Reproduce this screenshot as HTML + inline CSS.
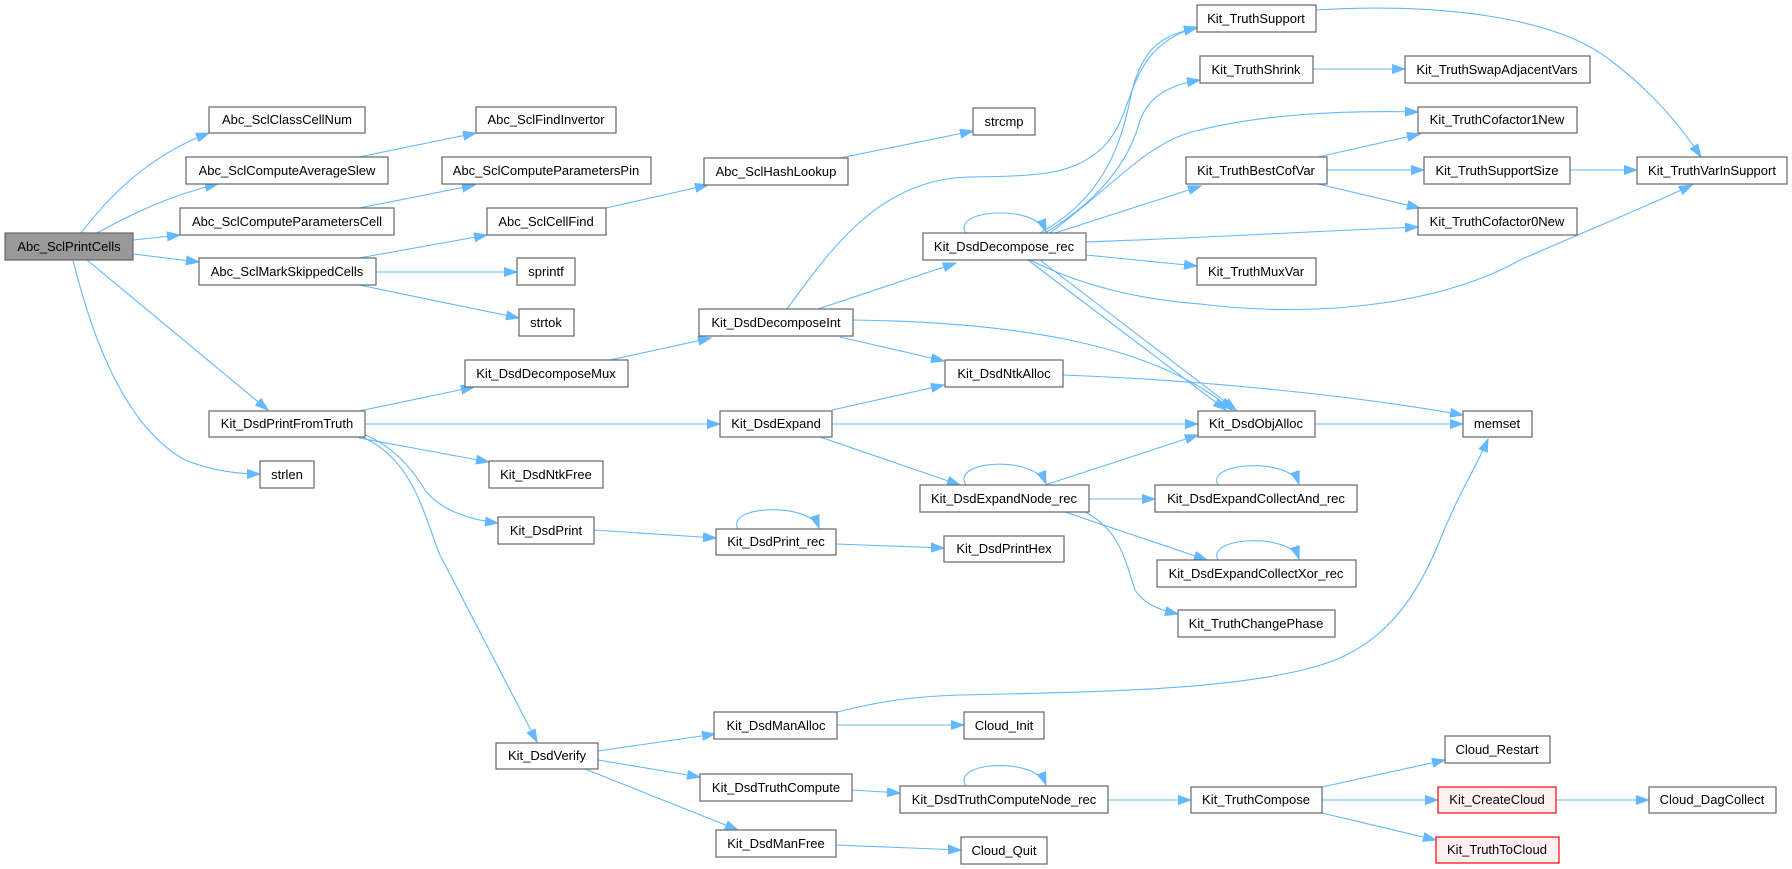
<!DOCTYPE html>
<html><head><meta charset="utf-8"><style>
html,body{margin:0;padding:0;background:#fff;}
svg{display:block;}
text{font-family:"Liberation Sans",Arial,sans-serif;font-size:13px;fill:#000;}
.e{fill:none;stroke:#63b8ff;stroke-width:1.1;marker-end:url(#a);}
.n{fill:#fff;stroke:#666;stroke-width:1.2;}
.r{fill:#fff0f0;stroke:#ff0000;stroke-width:1.2;}
.g{fill:#999;stroke:#666;stroke-width:1.2;}
</style></head><body>
<svg width="1792" height="869" viewBox="0 0 1792 869" xmlns="http://www.w3.org/2000/svg">
<defs><marker id="a" markerUnits="userSpaceOnUse" markerWidth="14" markerHeight="10" refX="13" refY="5" orient="auto"><path d="M0,0.5 L13,5 L0,9.5 z" fill="#63b8ff" stroke="#63b8ff"/></marker></defs>
<g>
<path class="e" d="M81,233 C110,195 150,155 209,133"/>
<path class="e" d="M97,233 C130,215 170,195 218,184"/>
<path class="e" d="M133,240 L180,235"/>
<path class="e" d="M133,254 L199,262"/>
<path class="e" d="M87,260 L268,410"/>
<path class="e" d="M73,260 C95,350 130,430 185,460 C210,470 235,474 260,474"/>
<path class="e" d="M359,258 L487,235"/>
<path class="e" d="M376,272 L517,272"/>
<path class="e" d="M359,285 L519,318"/>
<path class="e" d="M359,157 L476,133"/>
<path class="e" d="M359,208 L475,185"/>
<path class="e" d="M606,208 L708,185"/>
<path class="e" d="M840,158 L973,131"/>
<path class="e" d="M359,411 L474,387"/>
<path class="e" d="M365,424 L720,424"/>
<path class="e" d="M359,438 L489,462"/>
<path class="e" d="M365,435 C390,445 410,465 425,490 C440,510 470,520 498,523"/>
<path class="e" d="M362,437 C415,460 425,520 440,555 L537,742"/>
<path class="e" d="M610,360 L711,338"/>
<path class="e" d="M787,309 C830,250 880,178 970,177 C1040,176 1070,175 1100,150 C1140,115 1120,50 1197,27"/>
<path class="e" d="M818,309 L956,263"/>
<path class="e" d="M840,337 L944,361"/>
<path class="e" d="M853,320 C1000,322 1150,340 1232,410"/>
<path class="e" d="M966,233 C950,210 1035,203 1046,232"/>
<path class="e" d="M1040,233 C1100,200 1120,150 1130,100 C1140,50 1160,35 1197,28"/>
<path class="e" d="M1045,233 C1100,200 1130,160 1140,120 C1150,95 1170,85 1200,80"/>
<path class="e" d="M1050,233 C1120,180 1150,140 1200,130 C1260,115 1340,110 1418,112"/>
<path class="e" d="M1055,233 L1201,186"/>
<path class="e" d="M1086,242 C1200,238 1300,232 1418,227"/>
<path class="e" d="M1086,255 L1197,266"/>
<path class="e" d="M1030,260 C1090,290 1150,300 1200,304 C1330,320 1450,300 1520,260 C1600,225 1650,205 1692,185"/>
<path class="e" d="M1028,260 L1226,410"/>
<path class="e" d="M1040,260 L1236,410"/>
<path class="e" d="M1318,157 L1420,134"/>
<path class="e" d="M1327,170 L1424,170"/>
<path class="e" d="M1318,184 L1420,208"/>
<path class="e" d="M1313,69 L1405,69"/>
<path class="e" d="M1316,10 C1450,2 1560,20 1610,60 C1650,90 1680,125 1701,157"/>
<path class="e" d="M1570,170 L1637,170"/>
<path class="e" d="M1063,375 C1200,380 1350,395 1463,415"/>
<path class="e" d="M832,410 L944,385"/>
<path class="e" d="M832,424 L1198,424"/>
<path class="e" d="M820,437 L960,485"/>
<path class="e" d="M966,485 C950,460 1035,455 1046,484"/>
<path class="e" d="M1045,485 L1198,435"/>
<path class="e" d="M1089,499 L1155,499"/>
<path class="e" d="M1065,512 L1207,560"/>
<path class="e" d="M1085,512 C1120,530 1125,560 1135,590 C1145,605 1160,610 1178,614"/>
<path class="e" d="M1218,485 C1205,462 1290,457 1299,484"/>
<path class="e" d="M1218,560 C1205,537 1290,532 1299,559"/>
<path class="e" d="M594,530 L716,538"/>
<path class="e" d="M738,529 C725,505 810,502 819,528"/>
<path class="e" d="M836,544 L944,548"/>
<path class="e" d="M598,751 L715,734"/>
<path class="e" d="M598,760 L700,777"/>
<path class="e" d="M585,769 L738,830"/>
<path class="e" d="M837,712 C870,704 900,697 960,695 C1100,692 1250,690 1330,662 C1390,640 1420,590 1440,540 C1460,490 1475,470 1488,439"/>
<path class="e" d="M837,725 L964,725"/>
<path class="e" d="M852,790 L900,793"/>
<path class="e" d="M966,786 C950,762 1035,756 1046,785"/>
<path class="e" d="M1108,800 L1191,800"/>
<path class="e" d="M836,845 L961,850"/>
<path class="e" d="M1322,787 L1445,760"/>
<path class="e" d="M1322,800 L1438,800"/>
<path class="e" d="M1322,813 L1436,840"/>
<path class="e" d="M1556,800 L1649,800"/>
<path class="e" d="M1315,424 L1463,424"/>
</g>
<g>
<rect class="g" x="5" y="233" width="128" height="27"/><text x="69" y="251" text-anchor="middle">Abc_SclPrintCells</text>
<rect class="n" x="209" y="107" width="156" height="26"/><text x="287" y="124" text-anchor="middle">Abc_SclClassCellNum</text>
<rect class="n" x="186" y="157" width="202" height="27"/><text x="287" y="175" text-anchor="middle">Abc_SclComputeAverageSlew</text>
<rect class="n" x="180" y="208" width="214" height="27"/><text x="287" y="226" text-anchor="middle">Abc_SclComputeParametersCell</text>
<rect class="n" x="199" y="258" width="177" height="27"/><text x="287" y="276" text-anchor="middle">Abc_SclMarkSkippedCells</text>
<rect class="n" x="476" y="107" width="140" height="26"/><text x="546" y="124" text-anchor="middle">Abc_SclFindInvertor</text>
<rect class="n" x="442" y="157" width="209" height="27"/><text x="546" y="175" text-anchor="middle">Abc_SclComputeParametersPin</text>
<rect class="n" x="487" y="208" width="119" height="27"/><text x="546" y="226" text-anchor="middle">Abc_SclCellFind</text>
<rect class="n" x="517" y="258" width="58" height="27"/><text x="546" y="276" text-anchor="middle">sprintf</text>
<rect class="n" x="519" y="309" width="55" height="27"/><text x="546" y="327" text-anchor="middle">strtok</text>
<rect class="n" x="704" y="158" width="144" height="27"/><text x="776" y="176" text-anchor="middle">Abc_SclHashLookup</text>
<rect class="n" x="973" y="108" width="62" height="27"/><text x="1004" y="126" text-anchor="middle">strcmp</text>
<rect class="n" x="923" y="233" width="163" height="27"/><text x="1004" y="251" text-anchor="middle">Kit_DsdDecompose_rec</text>
<rect class="n" x="1197" y="5" width="119" height="27"/><text x="1256" y="23" text-anchor="middle">Kit_TruthSupport</text>
<rect class="n" x="1200" y="56" width="113" height="27"/><text x="1256" y="74" text-anchor="middle">Kit_TruthShrink</text>
<rect class="n" x="1405" y="56" width="185" height="27"/><text x="1497" y="74" text-anchor="middle">Kit_TruthSwapAdjacentVars</text>
<rect class="n" x="1418" y="107" width="159" height="26"/><text x="1497" y="124" text-anchor="middle">Kit_TruthCofactor1New</text>
<rect class="n" x="1186" y="157" width="141" height="27"/><text x="1256" y="175" text-anchor="middle">Kit_TruthBestCofVar</text>
<rect class="n" x="1424" y="157" width="146" height="27"/><text x="1497" y="175" text-anchor="middle">Kit_TruthSupportSize</text>
<rect class="n" x="1637" y="157" width="150" height="27"/><text x="1712" y="175" text-anchor="middle">Kit_TruthVarInSupport</text>
<rect class="n" x="1418" y="208" width="159" height="27"/><text x="1497" y="226" text-anchor="middle">Kit_TruthCofactor0New</text>
<rect class="n" x="1197" y="258" width="119" height="27"/><text x="1256" y="276" text-anchor="middle">Kit_TruthMuxVar</text>
<rect class="n" x="465" y="360" width="163" height="27"/><text x="546" y="378" text-anchor="middle">Kit_DsdDecomposeMux</text>
<rect class="n" x="209" y="411" width="156" height="26"/><text x="287" y="428" text-anchor="middle">Kit_DsdPrintFromTruth</text>
<rect class="n" x="260" y="461" width="54" height="27"/><text x="287" y="479" text-anchor="middle">strlen</text>
<rect class="n" x="489" y="461" width="114" height="27"/><text x="546" y="479" text-anchor="middle">Kit_DsdNtkFree</text>
<rect class="n" x="498" y="517" width="96" height="27"/><text x="546" y="535" text-anchor="middle">Kit_DsdPrint</text>
<rect class="n" x="699" y="309" width="154" height="27"/><text x="776" y="327" text-anchor="middle">Kit_DsdDecomposeInt</text>
<rect class="n" x="945" y="360" width="118" height="27"/><text x="1004" y="378" text-anchor="middle">Kit_DsdNtkAlloc</text>
<rect class="n" x="720" y="411" width="112" height="26"/><text x="776" y="428" text-anchor="middle">Kit_DsdExpand</text>
<rect class="n" x="920" y="485" width="169" height="27"/><text x="1004" y="503" text-anchor="middle">Kit_DsdExpandNode_rec</text>
<rect class="n" x="716" y="529" width="120" height="26"/><text x="776" y="546" text-anchor="middle">Kit_DsdPrint_rec</text>
<rect class="n" x="944" y="536" width="120" height="26"/><text x="1004" y="553" text-anchor="middle">Kit_DsdPrintHex</text>
<rect class="n" x="1198" y="411" width="117" height="26"/><text x="1256" y="428" text-anchor="middle">Kit_DsdObjAlloc</text>
<rect class="n" x="1463" y="411" width="69" height="26"/><text x="1497" y="428" text-anchor="middle">memset</text>
<rect class="n" x="1155" y="485" width="202" height="27"/><text x="1256" y="503" text-anchor="middle">Kit_DsdExpandCollectAnd_rec</text>
<rect class="n" x="1157" y="560" width="199" height="27"/><text x="1256" y="578" text-anchor="middle">Kit_DsdExpandCollectXor_rec</text>
<rect class="n" x="1178" y="610" width="157" height="27"/><text x="1256" y="628" text-anchor="middle">Kit_TruthChangePhase</text>
<rect class="n" x="496" y="743" width="102" height="26"/><text x="547" y="760" text-anchor="middle">Kit_DsdVerify</text>
<rect class="n" x="714" y="712" width="123" height="27"/><text x="776" y="730" text-anchor="middle">Kit_DsdManAlloc</text>
<rect class="n" x="964" y="712" width="80" height="27"/><text x="1004" y="730" text-anchor="middle">Cloud_Init</text>
<rect class="n" x="700" y="774" width="152" height="27"/><text x="776" y="792" text-anchor="middle">Kit_DsdTruthCompute</text>
<rect class="n" x="900" y="786" width="208" height="27"/><text x="1004" y="804" text-anchor="middle">Kit_DsdTruthComputeNode_rec</text>
<rect class="n" x="716" y="830" width="120" height="27"/><text x="776" y="848" text-anchor="middle">Kit_DsdManFree</text>
<rect class="n" x="961" y="837" width="86" height="27"/><text x="1004" y="855" text-anchor="middle">Cloud_Quit</text>
<rect class="n" x="1191" y="787" width="131" height="26"/><text x="1256" y="804" text-anchor="middle">Kit_TruthCompose</text>
<rect class="n" x="1445" y="736" width="105" height="27"/><text x="1497" y="754" text-anchor="middle">Cloud_Restart</text>
<rect class="r" x="1438" y="787" width="118" height="26"/><text x="1497" y="804" text-anchor="middle">Kit_CreateCloud</text>
<rect class="n" x="1649" y="787" width="127" height="26"/><text x="1712" y="804" text-anchor="middle">Cloud_DagCollect</text>
<rect class="r" x="1436" y="837" width="123" height="26"/><text x="1497" y="854" text-anchor="middle">Kit_TruthToCloud</text>
</g>
</svg>
</body></html>
